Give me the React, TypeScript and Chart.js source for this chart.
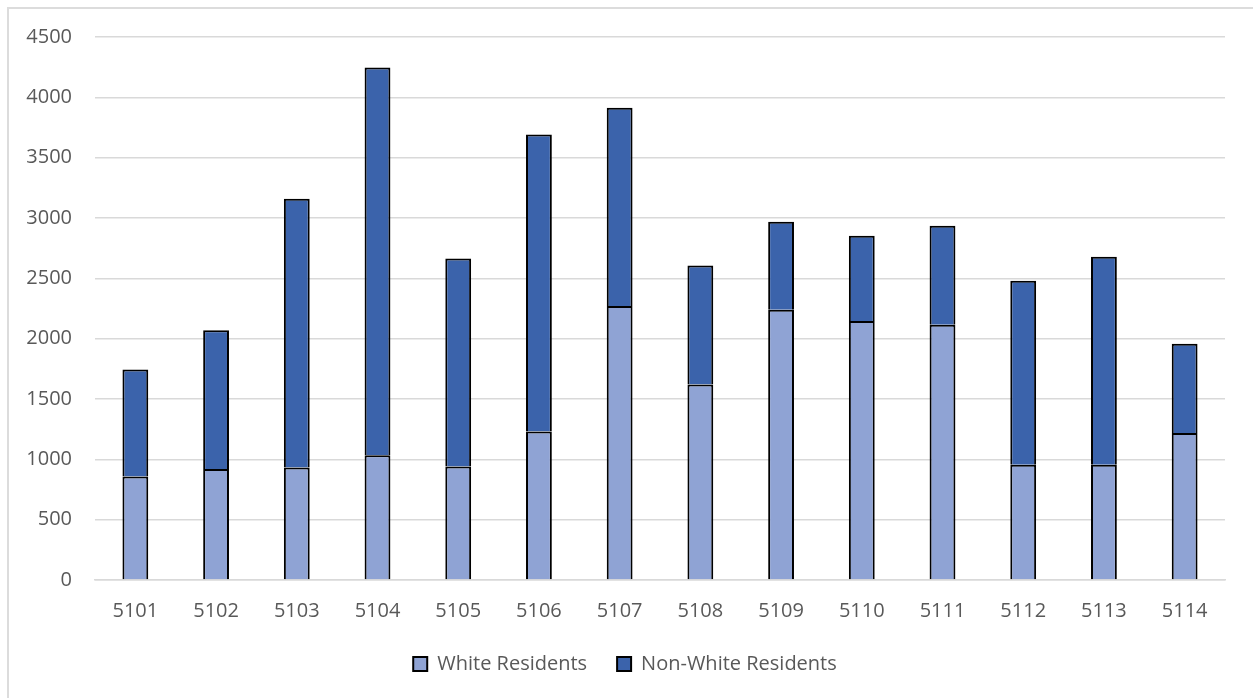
import React, { useEffect, useRef } from "react";
import { Chart, registerables } from "chart.js";

Chart.register(...registerables);

const categories = ["5101", "5102", "5103", "5104", "5105", "5106", "5107", "5108", "5109", "5110", "5111", "5112", "5113", "5114"];
const whiteResidents = [858, 919, 933, 1033, 941, 1230, 2271, 1620, 2240, 2146, 2116, 955, 955, 1218];
const nonWhiteResidents = [887, 1150, 2227, 3215, 1723, 2462, 1643, 986, 729, 707, 820, 1524, 1723, 740];
const seriesNames = ["White Residents", "Non-White Residents"];
const yMax = 4500;
const yStep = 500;

export default function App() {
  const ref = useRef<HTMLCanvasElement | null>(null);
  useEffect(() => {
    if (!ref.current) return;
    const font = { family: "'Open Sans', sans-serif", size: 20 };
    const chart = new Chart(ref.current, {
      type: "bar",
      data: {
        labels: categories,
        datasets: [
          {
            label: seriesNames[0],
            data: whiteResidents,
            backgroundColor: "#8FA3D4",
            borderColor: "#000000",
            borderWidth: 2,
            categoryPercentage: 1,
            barPercentage: 0.32,
          },
          {
            label: seriesNames[1],
            data: nonWhiteResidents,
            backgroundColor: "#3B63AB",
            borderColor: "#000000",
            borderWidth: 2,
            categoryPercentage: 1,
            barPercentage: 0.32,
          },
        ],
      },
      options: {
        responsive: false,
        animation: false,
        layout: { padding: { left: 25, right: 28, top: 37, bottom: 14 } },
        plugins: {
          tooltip: { enabled: false },
          legend: {
            position: "bottom",
            labels: {
              color: "#595959",
              font,
              boxWidth: 14,
              boxHeight: 14,
              padding: 30,
              generateLabels: (c: any) =>
                c.data.datasets.map((ds: any, i: number) => ({
                  text: ds.label,
                  fillStyle: ds.backgroundColor,
                  strokeStyle: "#000000",
                  lineWidth: 2,
                  fontColor: "#595959",
                  datasetIndex: i,
                  hidden: false,
                })),
            },
          },
        },
        scales: {
          x: {
            stacked: true,
            grid: { display: false, drawTicks: false },
            border: { color: "#d9d9d9", width: 1.5 },
            ticks: { color: "#595959", font, padding: 19, maxRotation: 0 },
            afterFit: (s: any) => {
              s.height -= 18;
            },
          },
          y: {
            stacked: true,
            min: 0,
            max: yMax,
            grid: { color: "#d9d9d9", lineWidth: 1.5, drawTicks: false },
            border: { display: false },
            ticks: {
              stepSize: yStep,
              color: "#595959",
              font,
              padding: 23,
              callback: (v: any) => String(v),
            },
            afterFit: (s: any) => {
              s.width = 70;
            },
          },
        },
      },
    });
    return () => chart.destroy();
  }, []);
  return (
    <div style={{ position: "fixed", left: 0, top: 0, width: 1253, height: 698, background: "#fff" }}>
      <div
        style={{
          position: "absolute",
          left: 7,
          top: 7,
          width: 1300,
          height: 750,
          borderLeft: "2px solid #dcdcdc",
          borderTop: "2px solid #dcdcdc",
        }}
      />
      <canvas ref={ref} width={1253} height={698} style={{ position: "absolute", left: 0, top: 0 }} />
    </div>
  );
}
